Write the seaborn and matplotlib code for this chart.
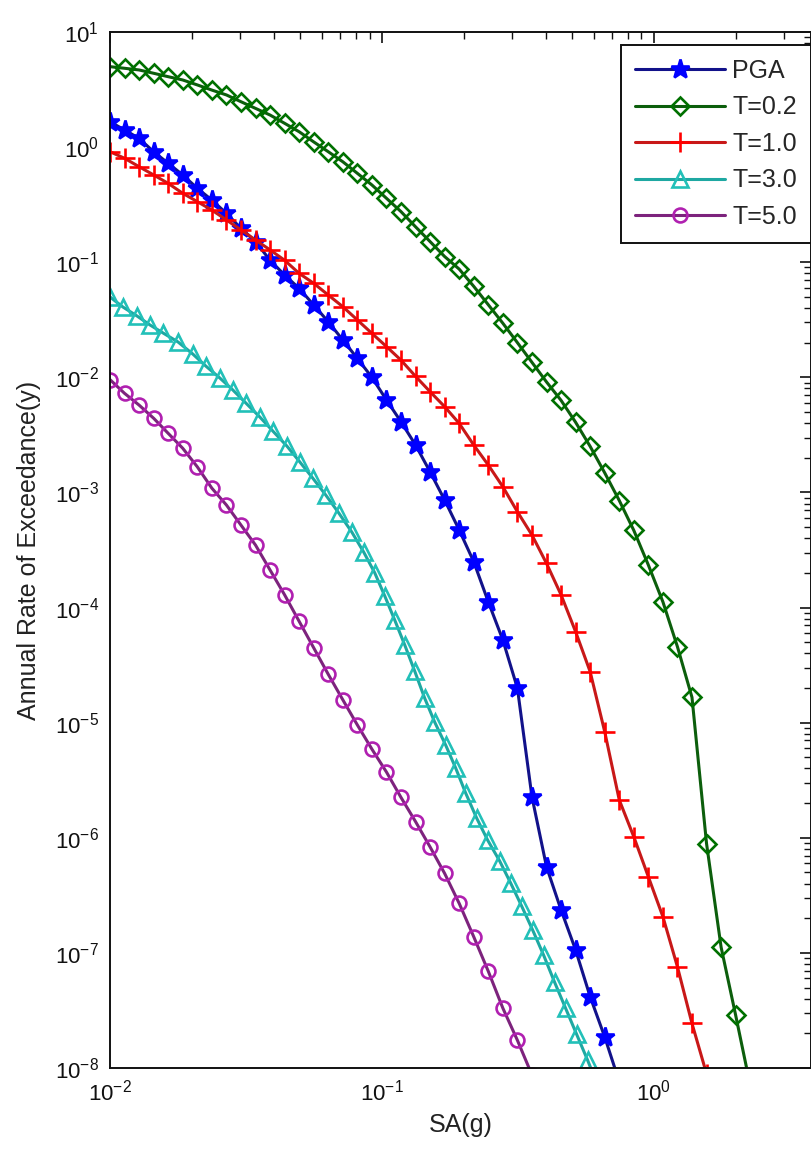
import matplotlib
matplotlib.use("Agg")
import matplotlib.pyplot as plt
import seaborn as sns
from matplotlib.ticker import LogLocator, NullFormatter

# spectral acceleration grid shared by PGA, T=0.2, T=1.0 and T=5.0 (g)
SA_GRID = [0.0100, 0.01131, 0.01279, 0.01447, 0.01637, 0.01851, 0.02094, 0.02368, 0.02679, 0.03030,
           0.03428, 0.03877, 0.04385, 0.04960, 0.05610, 0.06346, 0.07178, 0.08119, 0.09183, 0.1039,
           0.1175, 0.1329, 0.1503, 0.1700, 0.1923, 0.2175, 0.2460, 0.2783, 0.3148, 0.3560,
           0.4027, 0.4555, 0.5152, 0.5828, 0.6592, 0.7456, 0.8433, 0.9539, 1.079, 1.220,
           1.380, 1.561, 1.766, 1.997, 2.259]

RATE_PGA = [1.66, 1.41, 1.19, 0.912, 0.723, 0.573, 0.439, 0.347, 0.266, 0.197,
            0.151, 0.104, 0.0774, 0.0593, 0.0425, 0.0304, 0.0211, 0.0146, 1.00e-2, 6.35e-3,
            4.11e-3, 2.58e-3, 1.51e-3, 8.59e-4, 4.71e-4, 2.50e-4, 1.12e-4, 5.22e-5, 1.99e-5, 2.27e-6,
            5.60e-7, 2.36e-7, 1.06e-7, 4.16e-8, 1.86e-8, 7.59e-9]

RATE_T02 = [5.00, 4.84, 4.68, 4.38, 4.09, 3.83, 3.47, 3.13, 2.84, 2.48,
            2.17, 1.90, 1.61, 1.36, 1.11, 0.912, 0.746, 0.592, 0.469, 0.359,
            0.275, 0.203, 0.151, 0.112, 0.0871, 0.0617, 0.0427, 0.0295, 0.0200, 0.0135,
            9.12e-3, 6.31e-3, 4.07e-3, 2.51e-3, 1.48e-3, 8.51e-4, 4.68e-4, 2.34e-4, 1.12e-4, 4.57e-5,
            1.66e-5, 8.91e-7, 1.12e-7, 2.88e-8, 7.08e-9]

RATE_T10 = [0.912, 0.800, 0.676, 0.573, 0.484, 0.397, 0.336, 0.284, 0.233, 0.191,
            0.156, 0.128, 0.104, 0.0800, 0.0656, 0.0519, 0.0411, 0.0315, 0.0241, 0.0185,
            0.0141, 0.0102, 7.50e-3, 5.56e-3, 3.98e-3, 2.58e-3, 1.73e-3, 1.12e-3, 6.79e-4, 4.27e-4,
            2.42e-4, 1.29e-4, 6.17e-5, 2.77e-5, 8.34e-6, 2.13e-6, 1.02e-6, 4.58e-7, 2.06e-7, 7.57e-8,
            2.44e-8, 8.91e-9]

RATE_T50 = [9.55e-3, 7.26e-3, 5.74e-3, 4.41e-3, 3.26e-3, 2.42e-3, 1.67e-3, 1.09e-3, 7.78e-4, 5.21e-4,
            3.49e-4, 2.12e-4, 1.29e-4, 7.59e-5, 4.47e-5, 2.63e-5, 1.58e-5, 9.55e-6, 5.89e-6, 3.72e-6,
            2.24e-6, 1.38e-6, 8.32e-7, 4.90e-7, 2.69e-7, 1.38e-7, 6.92e-8, 3.31e-8, 1.74e-8, 8.71e-9]

# T=3.0 is sampled on its own, denser grid
SA_T30 = [0.01000, 0.01116, 0.01257, 0.01403, 0.01566, 0.01778, 0.02018, 0.02253, 0.02535, 0.02830,
          0.03159, 0.03556, 0.03971, 0.04470, 0.04989, 0.05568, 0.06216, 0.06939, 0.07745, 0.08569,
          0.09408, 0.1024, 0.1114, 0.1213, 0.1319, 0.1436, 0.1563, 0.1715, 0.1866, 0.2032,
          0.2230, 0.2446, 0.2709, 0.2972, 0.3263, 0.3581, 0.3929, 0.4311, 0.4732, 0.5193,
          0.5702, 0.6312]
RATE_T30 = [0.0499, 0.0408, 0.0341, 0.0285, 0.0243, 0.0203, 0.0159, 0.0125, 9.86e-3, 7.76e-3,
            5.98e-3, 4.52e-3, 3.41e-3, 2.53e-3, 1.84e-3, 1.33e-3, 9.48e-4, 6.62e-4, 4.53e-4, 3.03e-4,
            2.00e-4, 1.26e-4, 7.79e-5, 4.72e-5, 2.81e-5, 1.63e-5, 1.01e-5, 6.38e-6, 4.04e-6, 2.44e-6,
            1.48e-6, 9.55e-7, 6.28e-7, 4.05e-7, 2.55e-7, 1.58e-7, 9.57e-8, 5.57e-8, 3.31e-8, 1.97e-8,
            1.17e-8, 6.43e-9]

LABELS = ["PGA", "T=0.2", "T=1.0", "T=3.0", "T=5.0"]
LINE_COLORS = ["#12128a", "#0c5e0c", "#c81818", "#1ea8a2", "#7d237d"]
MARK_COLORS = ["#0000ff", "#007000", "#ff0000", "#22c0b8", "#b020b0"]

X_TICKS = [1e-2, 1e-1, 1e0]
Y_TICKS = [1e-8, 1e-7, 1e-6, 1e-5, 1e-4, 1e-3, 1e-2, 1e-1, 1e0, 1e1]

sns.set_style("white")
plt.rcParams["font.family"] = ["Liberation Sans", "DejaVu Sans"]
plt.rcParams["mathtext.fontset"] = "custom"
plt.rcParams["mathtext.rm"] = "Liberation Sans"
plt.rcParams["mathtext.it"] = "Liberation Sans:italic"
plt.rcParams["mathtext.bf"] = "Liberation Sans:bold"

fig = plt.figure(figsize=(8.12, 11.57), dpi=100)
ax = fig.add_axes([110 / 812, 1 - 1068 / 1157, 701 / 812, 1036 / 1157])
ax.set_xscale("log")
ax.set_yscale("log")

series = [
    (SA_GRID[:len(RATE_PGA)], RATE_PGA, dict(marker="*", markersize=14, markerfacecolor=MARK_COLORS[0])),
    (SA_GRID[:len(RATE_T02)], RATE_T02, dict(marker="D", markersize=9, markerfacecolor="none")),
    (SA_GRID[:len(RATE_T10)], RATE_T10, dict(marker="+", markersize=15, markerfacecolor="none")),
    (SA_T30, RATE_T30, dict(marker="^", markersize=11, markerfacecolor="none")),
    (SA_GRID[:len(RATE_T50)], RATE_T50, dict(marker="o", markersize=10, markerfacecolor="none")),
]

for k, (xs, ys, mk) in enumerate(series):
    sns.lineplot(x=xs, y=ys, ax=ax, color=LINE_COLORS[k], linewidth=2.2,
                 markeredgecolor=MARK_COLORS[k], markeredgewidth=1.9,
                 label=LABELS[k], estimator=None, sort=False, **mk)

ax.set_xlim(0.01, 3.78)
ax.set_ylim(1e-8, 10)

ax.set_xticks(X_TICKS)
ax.set_yticks(Y_TICKS)
ax.xaxis.set_minor_locator(LogLocator(base=10, subs=range(2, 10), numticks=12))
ax.yaxis.set_minor_locator(LogLocator(base=10, subs=range(2, 10), numticks=12))
ax.xaxis.set_minor_formatter(NullFormatter())
ax.yaxis.set_minor_formatter(NullFormatter())

ax.tick_params(which="both", direction="in", top=True, right=True, colors="#111111")
ax.tick_params(which="major", length=8, width=1.2, labelsize=16, pad=8)
ax.tick_params(which="minor", length=5, width=1.0)
for sp in ax.spines.values():
    sp.set_color("#111111")
    sp.set_linewidth(1.4)

ax.set_xlabel("SA(g)", fontsize=18, color="#222222", labelpad=6)
ax.set_ylabel("Annual Rate of Exceedance(y)", fontsize=18, color="#222222", labelpad=10)

leg = ax.legend(loc="upper right", bbox_to_anchor=(1.0, 1 - 13 / 1036), borderaxespad=0.0,
                fontsize=18, handlelength=3.6, labelspacing=0.5, handletextpad=0.3,
                borderpad=0.55, fancybox=False, framealpha=1.0, edgecolor="#111111")
leg.get_frame().set_linewidth(1.4)

fig.savefig("out.png", dpi=100)
plt.close(fig)
